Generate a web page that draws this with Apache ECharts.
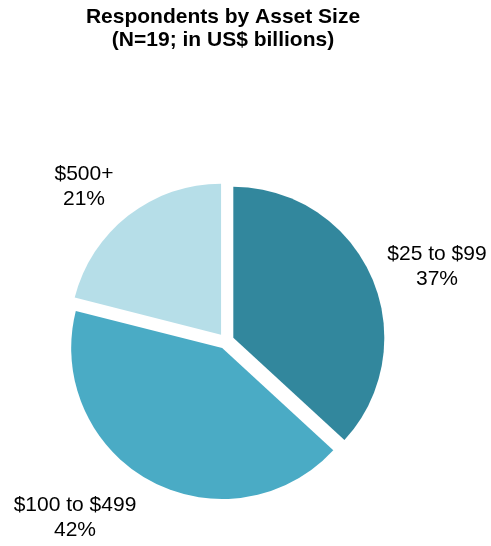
<!DOCTYPE html>
<html>
<head>
<meta charset="utf-8">
<style>
  html, body { margin: 0; padding: 0; background: #ffffff; }
  #chart { width: 491px; height: 546px; }
</style>
<script src="https://cdn.jsdelivr.net/npm/echarts@6/dist/echarts.min.js"></script>
</head>
<body>
<div id="chart"></div>
<script>
// Asset size groups and respondent counts (N = 19)
const categories = ['$25 to $99', '$100 to $499', '$500+'];
const counts = [7, 8, 4];
const sliceColors = ['#32879D', '#4AABC5', '#B6DEE8'];

// Pie geometry
const pieCenter = [226, 341];
const pieRadius = 151;

// Label block centres, relative to the pie centre
const labelOffsets = [[211, -74], [-151, 177], [-142, -154]];

const FONT = 'Liberation Sans, Arial, sans-serif';
const total = counts.reduce((a, b) => a + b, 0);

const chart = echarts.init(document.getElementById('chart'), null, { renderer: 'canvas' });

// Category name and rounded share, centred next to each slice
const sliceLabels = categories.map((name, i) => ({
  type: 'text',
  x: pieCenter[0] + labelOffsets[i][0],
  y: pieCenter[1] + labelOffsets[i][1],
  silent: true,
  style: {
    text: name + '\n' + Math.round(counts[i] / total * 100) + '%',
    fill: '#000000',
    font: '21px ' + FONT,
    lineHeight: 25,
    align: 'center',
    verticalAlign: 'middle'
  }
}));

chart.setOption({
  animation: false,
  backgroundColor: '#ffffff',
  title: {
    text: 'Respondents by Asset Size\n(N=19; in US$ billions)',
    left: 223,
    top: 6,
    padding: 0,
    textAlign: 'center',
    textStyle: {
      fontFamily: FONT,
      fontSize: 21,
      fontWeight: 'bold',
      color: '#000000',
      lineHeight: 23
    }
  },
  graphic: sliceLabels,
  series: [{
    type: 'pie',
    center: pieCenter,
    radius: [0, pieRadius],
    startAngle: 90,
    clockwise: true,
    selectedMode: 'multiple',
    selectedOffset: 8,
    avoidLabelOverlap: false,
    emphasis: { disabled: true },
    itemStyle: { borderWidth: 0 },
    label: { show: false },
    labelLine: { show: false },
    data: categories.map((name, i) => ({
      name: name,
      value: counts[i],
      selected: true,
      itemStyle: { color: sliceColors[i] }
    }))
  }]
});
</script>
</body>
</html>
